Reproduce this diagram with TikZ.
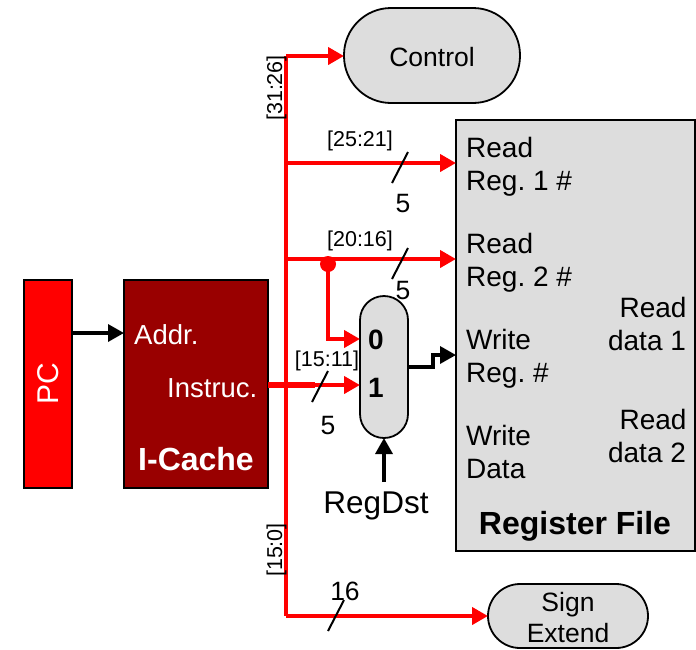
\documentclass[tikz,border=0pt]{standalone}
\usepackage{fontspec}
\setmainfont{Liberation Sans}
\usetikzlibrary{arrows.meta}
\definecolor{cachered}{RGB}{153,0,0}
\definecolor{boxgray}{RGB}{221,221,221}
\definecolor{wirered}{RGB}{255,0,0}
\tikzset{
 x=1pt,y=-1pt,
 blk/.style={draw=black,line width=2.6pt,inner sep=0pt,outer sep=0pt,anchor=north west},
 pill/.style={draw=black,line width=1.8pt,fill=boxgray,inner sep=0pt,outer sep=0pt,anchor=north west},
 wire/.style={draw=wirered,line width=4pt,-{Triangle[length=16pt,width=17pt,fill=wirered]}},
 bus/.style={draw=wirered,line width=4pt},
 blackwire/.style={draw=black,line width=3.4pt,-{Triangle[length=16pt,width=17pt]}},
 slash/.style={draw=black,line width=2pt},
 tx/.style={font=\fontsize{28}{30}\selectfont,inner sep=0pt,anchor=base west},
 txc/.style={font=\fontsize{28}{30}\selectfont,inner sep=0pt,anchor=base},
 pilltx/.style={font=\fontsize{26.5}{30}\selectfont,inner sep=0pt,anchor=base},
 lab/.style={font=\fontsize{21.5}{24}\selectfont,inner sep=0pt,anchor=base},
 big/.style={font=\fontsize{32}{36}\selectfont\bfseries,inner sep=0pt,anchor=base},
}
\begin{document}
\frenchspacing
\begin{tikzpicture}
\useasboundingbox (0,0) rectangle (696,649);
% blocks
\node[blk,fill=wirered,minimum width=48pt,minimum height=208pt] (pc) at (24,280) {};
\node[blk,fill=cachered,minimum width=144pt,minimum height=208pt] (ic) at (124,280) {};
\node[pill,minimum width=176pt,minimum height=95pt,rounded corners=47pt] (ctrl) at (344,8) {};
\node[blk,fill=boxgray,minimum width=239pt,minimum height=431pt] (rf) at (456,120) {};
\node[pill,minimum width=160pt,minimum height=64pt,rounded corners=32pt] (se) at (488,584) {};
\node[pill,minimum width=48pt,minimum height=142pt,rounded corners=24pt] (mux) at (360,296) {};
% tap points
\coordinate (top) at (286,56);
\coordinate (t1) at (286,163);
\coordinate (t2) at (286,259);
\coordinate (t3) at (286,385);
\coordinate (bot) at (286,616);
\coordinate (dot) at (328,259);
\coordinate (m0) at (328,339);
\coordinate (inst) at (315,385);
\coordinate (o1) at (433,367);
\coordinate (o2) at (433,355);
\coordinate (rdst) at (384,482);
% wires
\draw[bus] (top) -- (bot);
\draw[wire] (top) -- (ctrl.west |- top);
\draw[wire] (t1) -- (rf.west |- t1);
\draw[wire] (t2) -- (rf.west |- t2);
\draw[wire] (bot) -- (se.west |- bot);
\draw[wire] (dot) -- (m0) -- (mux.west |- m0);
\fill[wirered] (328,264) circle (8pt);
\draw[draw=wirered,line width=6.5pt] (ic.east |- t3) -- (inst);
\draw[wire] (inst) -- (mux.west |- inst);
\draw[blackwire] (pc.east |- 0,333) -- (ic.west |- 0,333);
\draw[blackwire] (mux.east |- o1) -- (o1) -- (o2) -- (rf.west |- o2);
\draw[blackwire] (rdst) -- (mux.south);
% slashes
\draw[slash] (392,183) -- (408,152);
\draw[slash] (392,279) -- (408,248);
\draw[slash] (312,402) -- (328,371);
\draw[slash] (328,631) -- (344,600);
% block texts
\node[tx,white,font=\fontsize{30}{32}\selectfont,rotate=90,anchor=base] (pct) at (58,384) {PC};
\node[tx,white,font=\fontsize{27.5}{30}\selectfont] (addr) at (134,344) {Addr.};
\node[tx,white,font=\fontsize{27.5}{30}\selectfont] (instr) at (167,397) {Instruc.};
\node[big,white] (ict) at (196,470) {I-Cache};
\node[pilltx] (ctt) at (432,66) {Control};
\node[tx] (r1a) at (466,157) {Read};
\node[tx] (r1b) at (466,190) {Reg. 1 \#};
\node[tx] (r2a) at (466,253) {Read};
\node[tx] (r2b) at (466,286) {Reg. 2 \#};
\node[tx] (wa) at (466,349) {Write};
\node[tx] (wb) at (466,382) {Reg. \#};
\node[tx] (da) at (466,445) {Write};
\node[tx] (db) at (466,478) {Data};
\node[txc] (d1a) at (653,317) {Read};
\node[txc] (d1b) at (647,350) {data 1};
\node[txc] (d2a) at (653,429) {Read};
\node[txc] (d2b) at (647,462) {data 2};
\node[big] (rft) at (575,534) {Register File};
\node[pilltx] (seA) at (568,611) {Sign};
\node[pilltx] (seB) at (568,642) {Extend};
\node[txc,font=\fontsize{28}{30}\selectfont\bfseries] (zero) at (376,349) {0};
\node[txc,font=\fontsize{28}{30}\selectfont\bfseries] (one) at (376,397) {1};
\node[txc,font=\fontsize{31.5}{36}\selectfont] (rd) at (376,513) {RegDst};
% bit labels
\node[lab,rotate=90] (l31) at (282,88) {[31:26]};
\node[lab] (l25) at (360,146) {[25:21]};
\node[lab] (l20) at (360,246) {[20:16]};
\node[lab] (l15) at (327,366) {[15:11]};
\node[lab,rotate=90] (l150) at (282,550) {[15:0]};
\node[pilltx] (n1) at (403,212) {5};
\node[pilltx] (n2) at (403,299) {5};
\node[pilltx] (n3) at (328,434) {5};
\node[pilltx] (n4) at (345,600) {16};
\end{tikzpicture}
\end{document}
